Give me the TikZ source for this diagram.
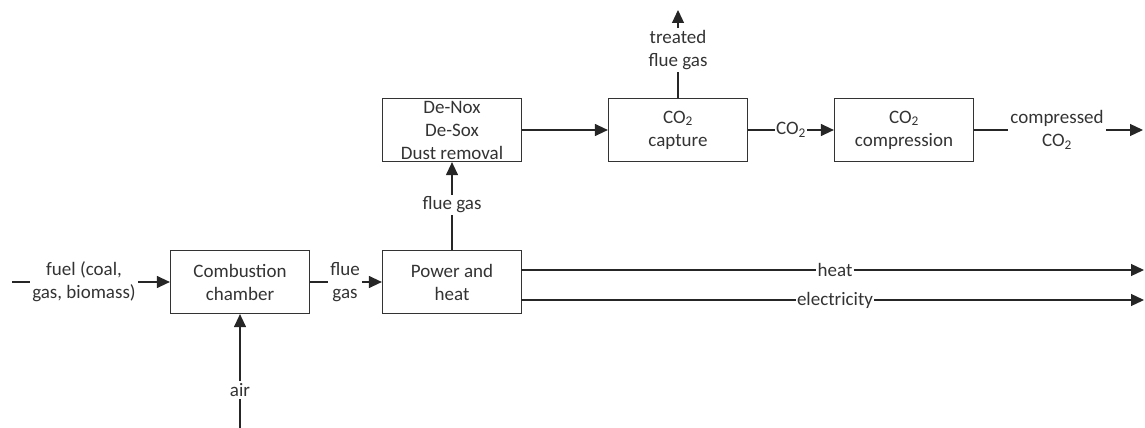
\documentclass[tikz,border=0pt]{standalone}
\usepackage{fontspec}
\setmainfont{Carlito}
\usetikzlibrary{arrows.meta}
\newcommand\dfont{\fontsize{19}{23}\selectfont}
\begin{document}
\begin{tikzpicture}[x=1pt,y=-1pt,
  box/.style={draw=black!80, line width=1.2pt, minimum width=139pt, minimum height=63pt, inner sep=0pt, align=center, text=black!80, font=\dfont},
  lbl/.style={inner sep=2pt, align=center, text=black!80, font=\dfont},
  ln/.style={draw=black!85, line width=1.2pt},
  arr/.style={ln, -{Triangle[length=13pt,width=12pt]}}
]
\useasboundingbox (0,0) rectangle (1145,428);

% boxes
\node[box] (comb) at (240,282) {Combustion\\chamber};
\node[box] (pow)  at (452,282) {Power and\\heat};
\node[box] (den)  at (452,130) {De-Nox\\De-Sox\\Dust removal};
\node[box] (cap)  at (678,130) {CO\textsubscript{2}\\capture};
\node[box] (comp) at (904,130) {CO\textsubscript{2}\\compression};

% labels
\node[lbl] (fuel) at (84,282) {fuel (coal,\\gas, biomass)};
\node[lbl] (fg1)  at (345,282) {flue\\gas};
\node[lbl] (air)  at (240,390) {air};
\node[lbl] (fg2)  at (452,205) {flue gas};
\node[lbl] (tfg)  at (678,50) {treated\\flue gas};
\node[lbl, inner sep=1pt] (co2) at (791,130) {CO\textsubscript{2}};
\node[lbl] (cco2) at (1057,130) {compressed\\CO\textsubscript{2}};
\node[lbl, inner sep=1pt] (heat) at (835,270) {heat};
\node[lbl, inner sep=1pt] (elec) at (835,300) {electricity};

% free ends
\coordinate (fuelin) at (12,282);
\coordinate (airin) at (240,428);
\coordinate (tfgout) at (678,10);
\coordinate (cco2out) at (1143,130);
\coordinate (heatin) at (521,270);
\coordinate (heatout) at (1144,270);
\coordinate (elecin) at (521,300);
\coordinate (elecout) at (1144,300);

% connectors
\draw[ln] (fuelin) -- (fuel.west);
\draw[arr] (fuel.east) -- (comb.west);
\draw[ln] (comb.east) -- (fg1.west);
\draw[arr] (fg1.east) -- (pow.west);
\draw[ln] (airin) -- (air.south);
\draw[arr] (air.north) -- (comb.south);
\draw[ln] (pow.north) -- (fg2.south);
\draw[arr] (fg2.north) -- (den.south);
\draw[arr] (den.east) -- (cap.west);
\draw[ln] (cap.north) -- (tfg.south);
\draw[arr] (tfg.north) -- (tfgout);
\draw[ln] (cap.east) -- (co2.west);
\draw[arr] (co2.east) -- (comp.west);
\draw[ln] (comp.east) -- (cco2.west);
\draw[arr] (cco2.east) -- (cco2out);
\draw[ln] (heatin) -- (heat.west);
\draw[arr] (heat.east) -- (heatout);
\draw[ln] (elecin) -- (elec.west);
\draw[arr] (elec.east) -- (elecout);
\end{tikzpicture}
\end{document}
